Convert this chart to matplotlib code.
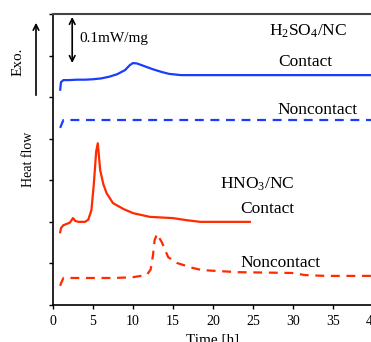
import matplotlib
matplotlib.use("Agg")
import matplotlib.pyplot as plt

plt.rcParams['font.family'] = ['Liberation Serif', 'DejaVu Serif']
plt.rcParams['mathtext.fontset'] = 'custom'
plt.rcParams['mathtext.rm'] = 'Liberation Serif'
plt.rcParams['mathtext.it'] = 'Liberation Serif:italic'
plt.rcParams['mathtext.bf'] = 'Liberation Serif:bold'

# H2SO4/NC contact
t_h2so4_c = [0.9, 1.0, 1.3, 2.0, 3.0, 4.0, 5.0, 6.0, 7.0, 8.0, 9.0, 9.6, 10.0, 10.5, 11.5, 12.5, 13.5, 14.5, 16, 20, 25, 30, 35, 40]
y_h2so4_c = [5.18, 5.36, 5.41, 5.41, 5.42, 5.42, 5.43, 5.45, 5.49, 5.55, 5.65, 5.77, 5.82, 5.81, 5.74, 5.67, 5.61, 5.56, 5.53, 5.53, 5.53, 5.53, 5.53, 5.53]
# H2SO4/NC noncontact
t_h2so4_n = [0.9, 1.0, 1.3, 2.0, 5, 10, 20, 30, 40]
y_h2so4_n = [4.26, 4.31, 4.45, 4.45, 4.45, 4.45, 4.45, 4.45, 4.45]
# HNO3/NC contact
t_hno3_c = [0.9, 1.0, 1.3, 2.1, 2.5, 2.8, 3.2, 4.0, 4.4, 4.8, 5.1, 5.4, 5.6, 5.9, 6.3, 6.7, 7.5, 8.8, 10.0, 12.1, 15.0, 16.7, 18.4, 24.6]
y_hno3_c = [1.75, 1.85, 1.92, 1.98, 2.09, 2.02, 2.0, 2.0, 2.05, 2.28, 2.9, 3.7, 3.89, 3.24, 2.9, 2.69, 2.45, 2.31, 2.21, 2.12, 2.09, 2.04, 2.0, 2.0]
# HNO3/NC noncontact
t_hno3_n = [0.9, 1.0, 1.3, 3, 7.8, 10.0, 11.7, 12.2, 12.5, 12.7, 13.0, 13.6, 14.4, 15.5, 17.5, 18.6, 23.1, 29.9, 31.5, 34.0, 40.0]
y_hno3_n = [0.46, 0.52, 0.65, 0.65, 0.65, 0.67, 0.72, 0.85, 1.2, 1.56, 1.71, 1.51, 1.15, 1.01, 0.89, 0.84, 0.79, 0.77, 0.72, 0.70, 0.70]

blue = '#1a3cff'
red = '#ff2a00'

fig = plt.figure(figsize=(3.71, 3.42), dpi=100)
ax = fig.add_axes([53/371, 1-305/342, 320/371, 291/342])

ax.plot(t_h2so4_c, y_h2so4_c, color=blue, lw=1.6)
ax.plot(t_h2so4_n, y_h2so4_n, color=blue, lw=1.6, ls=(0, (4, 3)))
ax.plot(t_hno3_c, y_hno3_c, color=red, lw=1.6)
ax.plot(t_hno3_n, y_hno3_n, color=red, lw=1.6, ls=(0, (4, 3)))

ax.set_xlim(0, 40)
ax.set_ylim(0, 7)
ax.set_xticks([0, 5, 10, 15, 20, 25, 30, 35, 40])
ax.set_yticks(range(8))
ax.set_yticklabels([])
ax.tick_params(axis='x', labelsize=10, length=3, width=1, direction='out', pad=4)
ax.tick_params(axis='y', length=3, width=1, direction='out')
for s in ['left', 'bottom']:
    ax.spines[s].set_linewidth(1.2)
    ax.spines[s].set_color('black')
ax.spines['top'].set_color('#444444')
ax.spines['top'].set_linewidth(1.5)
ax.spines['right'].set_visible(False)

ax.set_xlabel('Time [h]', fontsize=11, labelpad=4)

fs = 12.5
ax.text(31.9, 6.58, r'H$_2$SO$_4$/NC', fontsize=fs, ha='center', va='center')
ax.text(31.5, 5.84, 'Contact', fontsize=fs, ha='center', va='center')
ax.text(33.1, 4.69, 'Noncontact', fontsize=fs, ha='center', va='center')
ax.text(25.5, 2.9, r'HNO$_3$/NC', fontsize=fs, ha='center', va='center')
ax.text(26.8, 2.3, 'Contact', fontsize=fs, ha='center', va='center')
ax.text(28.4, 1.0, 'Noncontact', fontsize=fs, ha='center', va='center')

ax.annotate('', xy=(2.4, 6.93), xytext=(2.4, 5.82),
            arrowprops=dict(arrowstyle='<->', color='black', lw=1.2, mutation_scale=10,
                            shrinkA=0, shrinkB=0))
ax.text(3.3, 6.4, '0.1mW/mg', fontsize=11, ha='left', va='center')

fig.text(18/371, 1-62/342, 'Exo.', rotation=90, fontsize=11, ha='center', va='center')
fig.text(28/371, 1-159/342, 'Heat flow', rotation=90, fontsize=10, ha='center', va='center')
fig.add_artist(matplotlib.patches.FancyArrowPatch((36/371, 1-98/342), (36/371, 1-20/342),
               transform=fig.transFigure, arrowstyle='->', mutation_scale=10, lw=1.2, color='black'))

fig.savefig('out.png', dpi=100)
